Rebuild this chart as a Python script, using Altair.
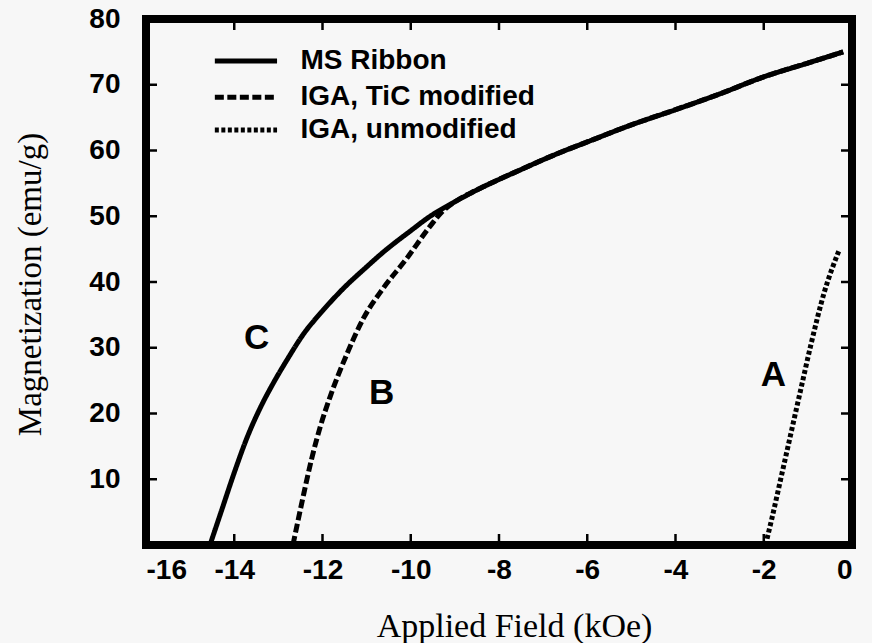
import altair as alt
import pandas as pd

# ---- data ----
ms_x = [-14.55, -14.3, -14.0, -13.7, -13.4, -13.1, -12.8, -12.44, -12.0, -11.53, -11.0,
        -10.63, -10.0, -9.56, -9.0, -8.5, -8.0, -7.5, -7.0, -6.5, -6.0, -5.0, -4.0,
        -3.0, -2.0, -1.0, -0.2]
ms_y = [0, 5.0, 11.0, 16.5, 21.0, 24.8, 28.2, 32.0, 35.6, 39.0, 42.3,
        44.5, 47.8, 50.0, 52.2, 54.0, 55.6, 57.1, 58.6, 60.0, 61.3, 63.9, 66.2,
        68.6, 71.2, 73.3, 75.0]

tic_x = [-12.67, -12.45, -12.25, -12.05, -11.83, -11.45, -11.07, -10.63, -10.1, -9.56, -9.3,
         -9.0, -8.5, -8.0, -7.5, -7.0, -6.5, -6.0, -5.0, -4.0, -3.0, -2.0, -1.0, -0.2]
tic_y = [0, 7.0, 13.0, 18.0, 22.5, 29.0, 34.5, 39.0, 43.5, 48.5, 50.6,
         52.2, 54.0, 55.6, 57.1, 58.6, 60.0, 61.3, 63.9, 66.2, 68.6, 71.2, 73.3, 75.0]

unmod_x = [-1.96, -1.81, -1.6, -1.37, -1.15, -0.93, -0.63, -0.3]
unmod_y = [0, 4.2, 10.5, 17.4, 24.0, 30.5, 38.4, 44.7]

series_names = ["MS Ribbon", "IGA, TiC modified", "IGA, unmodified"]

curve_letters = ["C", "B", "A"]
letter_x = [-13.49, -10.66, -1.78]
letter_y = [31.5, 23.1, 25.8]

x_ticks = [-16, -14, -12, -10, -8, -6, -4, -2, 0]
y_ticks = [10, 20, 30, 40, 50, 60, 70, 80]
x_inner_ticks = [-14, -12, -10, -8, -6, -4, -2]
y_inner_ticks = [10, 20, 30, 40, 50, 60, 70]

# legend rows (in data units)
leg_y = [73.6, 68.1, 63.1]
leg_x1, leg_x2, leg_xt = -14.44, -13.03, -12.5

W, H = 706, 526

rows = []
for name, xs, ys in [(series_names[0], ms_x, ms_y),
                     (series_names[1], tic_x, tic_y),
                     (series_names[2], unmod_x, unmod_y)]:
    for i, (a, b) in enumerate(zip(xs, ys)):
        rows.append({"series": name, "field": a, "mag": b, "order": i})
df = pd.DataFrame(rows)

leg = pd.DataFrame({"series": series_names, "y": leg_y,
                    "x1": [leg_x1] * 3, "x2": [leg_x2] * 3, "xt": [leg_xt] * 3})
letters = pd.DataFrame({"t": curve_letters, "x": letter_x, "y": letter_y})
xt_df = pd.DataFrame({"v": x_inner_ticks})
yt_df = pd.DataFrame({"v": y_inner_ticks})

xscale = alt.Scale(domain=[-16, 0], nice=False, zero=False)
yscale = alt.Scale(domain=[0, 80], nice=False, zero=False)
dash_scale = alt.Scale(domain=series_names, range=[[1, 0], [9, 3.5], [4, 2.5]])
width_scale = alt.Scale(domain=series_names, range=[5, 5, 4.5])

xaxis = alt.Axis(values=x_ticks, title="Applied Field (kOe)", grid=False, ticks=False,
                 tickSize=0, domain=False, labelExpr="'' + datum.value",
                 labelFont="Liberation Sans", labelFontSize=28,
                 labelFontWeight="bold", labelColor="black", labelPadding=11,
                 titleFont="Liberation Serif", titleFontSize=34, titleFontWeight="normal",
                 titleColor="black", titleX=368, titleY=91, titleAlign="center",
                 titleBaseline="alphabetic")
yaxis = alt.Axis(values=y_ticks, title="Magnetization (emu/g)", grid=False, ticks=False,
                 tickSize=0, domain=False, labelFont="Liberation Sans", labelFontSize=28,
                 labelFontWeight="bold", labelColor="black", labelPadding=26,
                 titleFont="Liberation Serif", titleFontSize=33, titleFontWeight="normal",
                 titleColor="black", titleX=-106, titleY=265, titleAngle=-90,
                 titleAlign="center", titleBaseline="alphabetic")

lines = alt.Chart(df).mark_line(color="black", clip=True, interpolate="monotone").encode(
    x=alt.X("field:Q", scale=xscale, axis=xaxis),
    y=alt.Y("mag:Q", scale=yscale, axis=yaxis),
    detail="series:N",
    order="order:Q",
    strokeDash=alt.StrokeDash("series:N", scale=dash_scale, legend=None),
    strokeWidth=alt.StrokeWidth("series:N", scale=width_scale, legend=None),
)

leg_rules = alt.Chart(leg).mark_rule(color="black").encode(
    x=alt.X("x1:Q", scale=xscale), x2="x2:Q",
    y=alt.Y("y:Q", scale=yscale),
    strokeDash=alt.StrokeDash("series:N", scale=dash_scale, legend=None),
    strokeWidth=alt.StrokeWidth("series:N", scale=width_scale, legend=None),
)
leg_text = alt.Chart(leg).mark_text(align="left", baseline="middle", font="Liberation Sans",
                                    fontSize=28, fontWeight="bold", color="black").encode(
    x=alt.X("xt:Q", scale=xscale), y=alt.Y("y:Q", scale=yscale), text="series:N")

letter_marks = alt.Chart(letters).mark_text(font="Liberation Sans", fontSize=35,
                                            fontWeight="bold", color="black",
                                            baseline="middle", align="center").encode(
    x=alt.X("x:Q", scale=xscale), y=alt.Y("y:Q", scale=yscale), text="t:N")

tk = dict(color="black", strokeWidth=2.5)
top_ticks = alt.Chart(xt_df).mark_rule(**tk).encode(
    x=alt.X("v:Q", scale=xscale), y=alt.value(0), y2=alt.value(11))
bot_ticks = alt.Chart(xt_df).mark_rule(**tk).encode(
    x=alt.X("v:Q", scale=xscale), y=alt.value(H), y2=alt.value(H - 11))
left_ticks = alt.Chart(yt_df).mark_rule(**tk).encode(
    y=alt.Y("v:Q", scale=yscale), x=alt.value(0), x2=alt.value(11))
right_ticks = alt.Chart(yt_df).mark_rule(**tk).encode(
    y=alt.Y("v:Q", scale=yscale), x=alt.value(W), x2=alt.value(W - 11))

chart = alt.layer(lines, leg_rules, leg_text, letter_marks,
                  top_ticks, bot_ticks, left_ticks, right_ticks).properties(
    width=W, height=H,
    autosize=alt.AutoSizeParams(type="none"),
    padding={"left": 146, "top": 19, "right": 20, "bottom": 98},
    background="#f7f7f7",
).configure_view(stroke="black", strokeWidth=8)

chart.save("out.html", embed_options={"renderer": "svg", "actions": False})
